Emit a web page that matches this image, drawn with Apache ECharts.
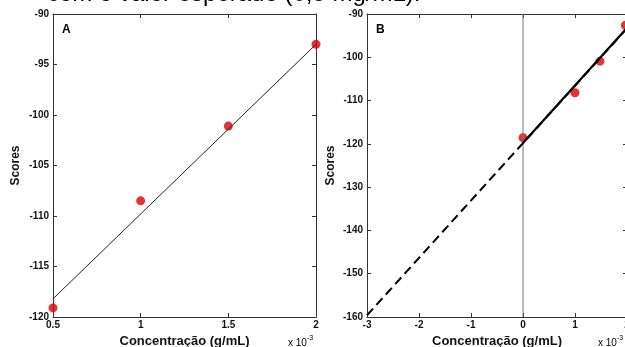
<!DOCTYPE html>
<html><head><meta charset="utf-8">
<script src="https://cdn.jsdelivr.net/npm/echarts@6/dist/echarts.min.js"></script>
<style>html,body{margin:0;padding:0;background:#fff}#c{width:625px;height:347px}</style>
</head><body><div id="c"></div>
<script>
// Panel A data
const concA = [0.5, 1, 1.5, 2];
const scoresA = [-119.1, -108.5, -101.1, -93.0];
const fitA = [[0.5, -118.2], [2, -93.0]];
// Panel B data
const concB = [0, 1, 1.48, 1.97];
const scoresB = [-118.6, -108.2, -100.9, -92.6];
const fitBSolid = [[0, -119.8], [2, -93.2]];
const fitBDashed = [[-3, -159.6], [2.1, -92.0]];
const zeroLine = [[0, -160], [0, -90]];

const axisColor = '#333';
const font = 'Arial, "Liberation Sans", sans-serif';
const lbl = {color: '#111', fontSize: 10, fontWeight: 'bold', fontFamily: font};

function xAx(gi, min, max, interval, pos, show) {
  return {
    gridIndex: gi, type: 'value', min: min, max: max, interval: interval, position: pos,
    axisLine: {show: true, onZero: false, lineStyle: {color: axisColor, width: 1}},
    axisTick: {show: true, inside: true, length: 4, lineStyle: {color: axisColor}},
    axisLabel: show ? Object.assign({margin: 3}, lbl) : {show: false},
    splitLine: {show: false},
    name: show ? 'Concentração (g/mL)' : '', nameLocation: 'middle', nameGap: 17,
    nameTextStyle: {fontSize: 13, fontWeight: 'bold', color: '#111', fontFamily: font}
  };
}
function yAx(gi, min, max, interval, pos, show, gap) {
  return {
    gridIndex: gi, type: 'value', min: min, max: max, interval: interval, position: pos,
    axisLine: {show: true, onZero: false, lineStyle: {color: axisColor, width: 1}},
    axisTick: {show: true, inside: true, length: 4, lineStyle: {color: axisColor}},
    axisLabel: show ? Object.assign({margin: 4}, lbl) : {show: false},
    splitLine: {show: false},
    name: show ? 'Scores' : '', nameLocation: 'middle', nameGap: gap,
    nameTextStyle: {fontSize: 12, fontWeight: 'bold', color: '#111', fontFamily: font}
  };
}

const chart = echarts.init(document.getElementById('c'), null, {renderer: 'canvas'});
chart.setOption({
  animation: false,
  backgroundColor: '#fff',
  grid: [
    {left: 53, top: 14, width: 263, height: 303, outerBoundsMode: 'none', containLabel: false},
    {left: 367, top: 14, width: 260, height: 303, outerBoundsMode: 'none', containLabel: false}
  ],
  xAxis: [
    xAx(0, 0.5, 2, 0.5, 'bottom', true),
    xAx(0, 0.5, 2, 0.5, 'top', false),
    xAx(1, -3, 2, 1, 'bottom', true),
    xAx(1, -3, 2, 1, 'top', false)
  ],
  yAxis: [
    yAx(0, -120, -90, 5, 'left', true, 31),
    yAx(0, -120, -90, 5, 'right', false, 0),
    yAx(1, -160, -90, 10, 'left', true, 30),
    yAx(1, -160, -90, 10, 'right', false, 0)
  ],
  series: [
    {type: 'line', xAxisIndex: 0, yAxisIndex: 0, data: fitA, symbol: 'none',
     lineStyle: {color: '#222', width: 1}},
    {type: 'scatter', xAxisIndex: 0, yAxisIndex: 0, data: concA.map((x, i) => [x, scoresA[i]]),
     symbolSize: 9, itemStyle: {color: '#dd0000'}},
    {type: 'line', xAxisIndex: 2, yAxisIndex: 2, data: zeroLine, symbol: 'none',
     lineStyle: {color: '#777', width: 1}},
    {type: 'line', xAxisIndex: 2, yAxisIndex: 2, data: fitBDashed, symbol: 'none',
     lineStyle: {color: '#000', width: 2, type: [9, 5]}},
    {type: 'line', xAxisIndex: 2, yAxisIndex: 2, data: fitBSolid, symbol: 'none',
     lineStyle: {color: '#000', width: 2.2}},
    {type: 'scatter', xAxisIndex: 2, yAxisIndex: 2, data: concB.map((x, i) => [x, scoresB[i]]),
     symbolSize: 9, itemStyle: {color: '#dd0000'}}
  ],
  graphic: [
    {type: 'text', left: 47, top: -18, style: {text: 'com o valor esperado (0,5 mg/mL).',
      font: '24px Arial, "Liberation Sans", sans-serif', fill: '#000'}},
    {type: 'text', left: 62, top: 24, style: {text: 'A', font: 'bold 12px Arial, "Liberation Sans", sans-serif', fill: '#000'}},
    {type: 'text', left: 376, top: 24, style: {text: 'B', font: 'bold 12px Arial, "Liberation Sans", sans-serif', fill: '#000'}},
    {type: 'text', left: 288, top: 335, style: {text: '{a|x 10}{b|-3}',
      rich: {a: {fontSize: 10, fontFamily: font, fill: '#000', verticalAlign: 'bottom'}, b: {fontSize: 7, fontFamily: font, fill: '#000', verticalAlign: 'top', padding: [0,0,6,0]}}}},
    {type: 'text', left: 598, top: 335, style: {text: '{a|x 10}{b|-3}',
      rich: {a: {fontSize: 10, fontFamily: font, fill: '#000', verticalAlign: 'bottom'}, b: {fontSize: 7, fontFamily: font, fill: '#000', verticalAlign: 'top', padding: [0,0,6,0]}}}}
  ]
});
</script></body></html>
